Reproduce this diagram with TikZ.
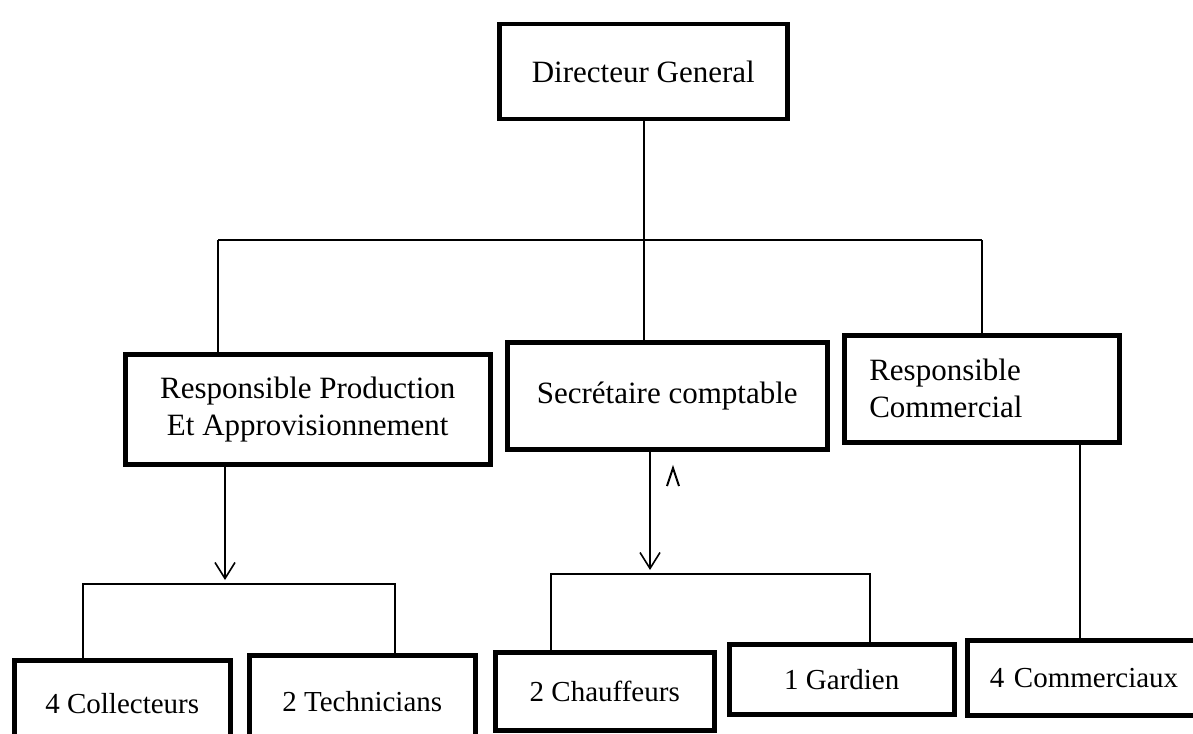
\documentclass[tikz,border=0pt]{standalone}
\usepackage{fontspec}
\setmainfont{Liberation Serif}
\usetikzlibrary{arrows.meta}

\begin{document}
\begin{tikzpicture}[x=1pt, y=-1pt,
    box/.style={draw, line width=4.5pt, inner sep=0pt, anchor=north west,
      font=\fontsize{31}{37}\selectfont, align=center},
    smallbox/.style={box, font=\fontsize{29}{35}\selectfont},
    link/.style={line width=1.6pt},
    arrowlink/.style={link, -{Straight Barb[length=16pt, width=20pt, line width=1.6pt]}}]
  \useasboundingbox (0,0) rectangle (1193,733);

  % top level
  \node [box, minimum width=288, minimum height=95] (dg) at (497,22) {Directeur General};

  % middle level
  \node [box, minimum width=365, minimum height=110] (rpa) at (123,352) {Responsible Production\\Et Approvisionnement};
  \node [box, minimum width=320, minimum height=107] (sc) at (505,340) {Secrétaire comptable};
  \node [box, minimum width=275, minimum height=107, text width=225, align=left] (rc) at (842,333) {Responsible\\Commercial};

  % bottom level
  \node [smallbox, minimum width=216, minimum height=87] (col) at (12,658) {4 Collecteurs};
  \node [smallbox, minimum width=226, minimum height=92] (tec) at (247,653) {2 Technicians};
  \node [smallbox, minimum width=219, minimum height=78] (chf) at (493,650) {2 Chauffeurs};
  \node [smallbox, minimum width=225, minimum height=70] (gar) at (727,642) {1 Gardien};
  \node [smallbox, minimum width=245, minimum height=75, text width=200, align=left] (com) at (965,638) {4 Commerciaux};

  \coordinate (bus) at (644,240);
  \coordinate (busL) at (218,240);
  \coordinate (busR) at (982,240);
  \draw [link] (dg.south -| bus) -- (sc.north -| bus);
  \draw [link] (busL) -- (busR);
  \draw [link] (busL) -- (rpa.north -| busL);
  \draw [link] (busR) -- (rc.north -| busR);

  % production branch
  \coordinate (brA) at (225,580);
  \coordinate (brAL) at (83,584);
  \coordinate (brAR) at (395,584);
  \draw [arrowlink] (rpa.south -| brA) -- (brA);
  \draw [link] (col.north -| brAL) -- (brAL) -- (brAR) -- (tec.north -| brAR);

  % secretariat branch
  \coordinate (brB) at (650,570);
  \coordinate (brBL) at (551,574);
  \coordinate (brBR) at (870,574);
  \draw [arrowlink] (sc.south -| brB) -- (brB);
  \draw [link] (chf.north -| brBL) -- (brBL) -- (brBR) -- (gar.north -| brBR);
  \draw [line width=2pt] (667,486) -- (673,468) -- (679,486);

  % commercial branch
  \coordinate (rcx) at (1080,0);
  \draw [link] (rc.south -| rcx) -- (com.north -| rcx);
\end{tikzpicture}
\end{document}
